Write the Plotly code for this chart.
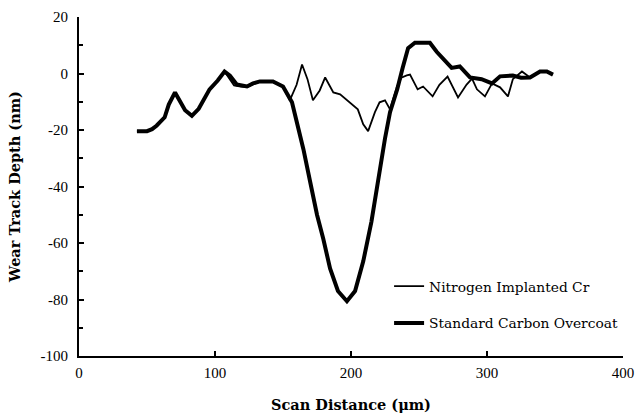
import plotly.graph_objects as go

# Standard Carbon Overcoat (thick)
carbon_x = [42.6, 50, 53.7, 57, 63, 66, 70.6, 74, 78, 83, 88, 96, 102, 107, 111, 116, 123.5, 128, 133,
            142.6, 150, 156.6, 160, 165, 170, 175, 179.6, 184.6, 190.4, 197, 203, 209, 215, 220, 225,
            228.7, 234, 238, 242, 247, 253, 258, 263, 268, 274, 280, 287.5, 296, 303.7, 309.6, 319,
            325, 331.6, 339, 344, 348.5]
carbon_y = [-20.4, -20.4, -19.7, -18.5, -15.5, -11, -6.7, -9.5, -13, -15, -12.5, -5.6, -2.5, 0.7, -0.8,
            -3.9, -4.6, -3.5, -2.8, -2.8, -4.6, -10.2, -17, -26.8, -38.4, -50, -58.5, -69, -77, -80.6,
            -77, -66.5, -52.5, -37.3, -23, -13.7, -5.6, 2, 9, 10.9, 11, 10.9, 7.7, 4.9, 2, 2.5, -1.4,
            -2, -3.5, -1, -0.7, -1.5, -1.4, 0.7, 0.7, -0.4]

# Nitrogen Implanted Cr (thin)
nitrogen_x = [42.6, 50, 53.7, 57, 63, 66, 70.6, 74, 78, 83, 88, 96, 102, 107, 110, 114, 119, 123.5, 128,
              133, 142.6, 150, 155, 160, 164, 168, 172, 177, 181, 187, 192, 199, 205, 209, 212.6, 217.6,
              221, 225, 228.7, 233.8, 237, 241, 243.4, 249, 253, 260, 265, 271, 278.7, 285, 289, 292.6,
              298.5, 303.7, 309.6, 315.4, 319, 325.7, 331.6, 339, 344, 348.5]
nitrogen_y = [-20.4, -20.4, -19.7, -18.5, -15.5, -11, -6.7, -9.5, -13, -15, -12.5, -5.6, -2.5, 0.7, -1.5,
              -4.2, -4.6, -4.8, -3.8, -2.8, -2.8, -4.6, -9.5, -4, 3.2, -2, -9.5, -6, -1.4, -6.7, -7.4,
              -10.2, -12.7, -18, -20.4, -13.7, -10.2, -9.5, -12.7, -4.6, -1.5, -0.7, -0.4, -5.6, -4.6,
              -8.1, -4, -1.1, -8.5, -3.9, -1.8, -5.6, -8.1, -3.5, -4.9, -8.1, -2, 0.7, -1.4, 0.7, 0.7, -0.4]

x_ticks = [0, 100, 200, 300, 400]
x_tick_text = ["0", "100", "200", "300", "400"]
y_ticks = [20, 0, -20, -40, -60, -80, -100]
y_tick_text = ["20", "0", "-20", "-40", "-60", "-80", "-100"]

TICK_FONT = "Liberation Serif"
TEXT_FONT = "DejaVu Serif"

fig = go.Figure()
fig.add_trace(go.Scatter(x=nitrogen_x, y=nitrogen_y, mode="lines", name="Nitrogen Implanted Cr",
                         line=dict(color="black", width=1.8), legend="legend", showlegend=True))
fig.add_trace(go.Scatter(x=carbon_x, y=carbon_y, mode="lines", name="Standard Carbon Overcoat",
                         line=dict(color="black", width=4), legend="legend2", showlegend=True))

leg_common = dict(xanchor="left", yanchor="middle", bgcolor="rgba(0,0,0,0)", visible=True,
                  font=dict(family=TEXT_FONT, size=13.8, color="black"))
fig.update_layout(
    width=637, height=416,
    margin=dict(l=79, r=14, t=17, b=60),
    paper_bgcolor="white", plot_bgcolor="white",
    showlegend=True,
    legend=dict(x=0.57, y=0.206, **leg_common),
    legend2=dict(x=0.57, y=0.097, **leg_common),
    xaxis=dict(range=[0, 400], tickvals=x_ticks, ticktext=x_tick_text, automargin=False,
               showline=True, linecolor="black", linewidth=2, mirror=False,
               ticks="inside", ticklen=5, tickwidth=1.5, tickcolor="black",
               showgrid=False, zeroline=False, ticklabelstandoff=2,
               tickfont=dict(family=TICK_FONT, size=15, color="black"),
               title=dict(text="<b>Scan Distance (μm)</b>", standoff=20,
                          font=dict(family=TEXT_FONT, size=14.5, color="black"))),
    yaxis=dict(range=[-100, 20], tickvals=y_ticks, ticktext=y_tick_text, automargin=False,
               showline=True, linecolor="black", linewidth=2,
               ticks="inside", ticklen=5, tickwidth=1.5, tickcolor="black",
               minor=dict(dtick=10, tick0=0, ticks="inside", ticklen=4, tickcolor="black"),
               showgrid=False, zeroline=False, ticklabelstandoff=6,
               tickfont=dict(family=TICK_FONT, size=15, color="black"),
               title=dict(text="<b>Wear Track Depth (nm)</b>", standoff=16,
                          font=dict(family=TEXT_FONT, size=14.5, color="black"))),
)

fig.write_html("out.html", config={"displayModeBar": False},
               post_script="document.body.style.margin='0';document.body.style.overflow='hidden';")
